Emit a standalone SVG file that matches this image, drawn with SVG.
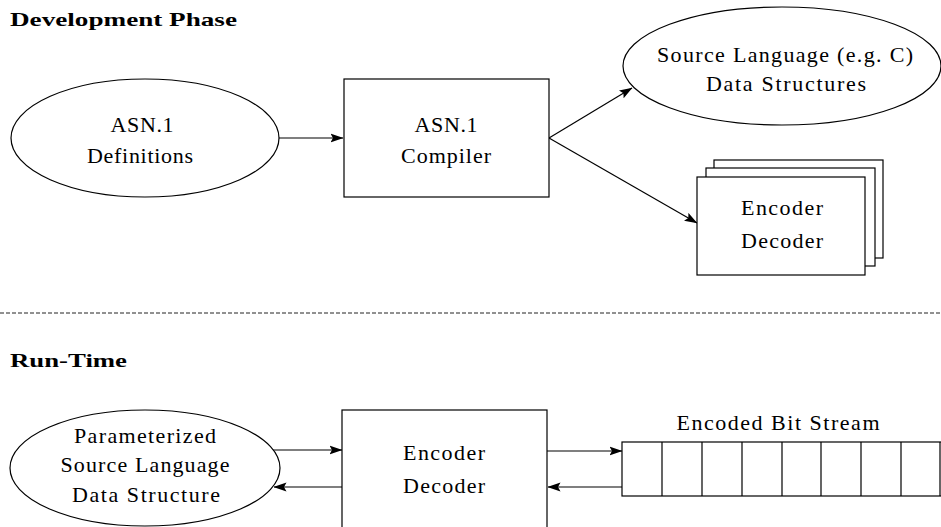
<svg xmlns="http://www.w3.org/2000/svg" width="941" height="527" viewBox="0 0 941 527">
  <style>
    .shape { fill: #fff; stroke: #000; stroke-width: 1.2; }
    .edge { fill: none; stroke: #000; stroke-width: 1.2; }
    .lbl { font-family: "Liberation Serif", "DejaVu Serif", serif; font-size: 22px; fill: #000; text-anchor: middle; }
    .head { font-family: "Liberation Serif", "DejaVu Serif", serif; font-size: 19px; font-weight: bold; fill: #000; }
  </style>
  <defs>
    <marker id="arrow" viewBox="0 0 13 10" markerWidth="13" markerHeight="10" refX="12.5" refY="5" orient="auto" markerUnits="userSpaceOnUse">
      <path d="M0,0.5 L13,5 L0,9.5 L2.5,5 Z" fill="#000"/>
    </marker>
  </defs>

  <rect width="941" height="527" fill="#fff"/>

  <!-- section headings -->
  <text class="head" x="10" y="26" textLength="227" lengthAdjust="spacingAndGlyphs">Development Phase</text>
  <text class="head" x="10" y="367" textLength="117" lengthAdjust="spacingAndGlyphs">Run-Time</text>

  <!-- separator between phases -->
  <line x1="0" y1="313" x2="941" y2="313" stroke="#222" stroke-width="1" stroke-dasharray="4,2"/>

  <!-- connectors -->
  <g id="connectors">
    <line class="edge" x1="279" y1="138" x2="343" y2="138" marker-end="url(#arrow)"/>
    <line class="edge" x1="549" y1="138" x2="632" y2="88" marker-end="url(#arrow)"/>
    <line class="edge" x1="549" y1="138" x2="697" y2="223" marker-end="url(#arrow)"/>
    <line class="edge" x1="272" y1="450" x2="342" y2="450" marker-end="url(#arrow)"/>
    <line class="edge" x1="342" y1="487" x2="274" y2="487" marker-end="url(#arrow)"/>
    <line class="edge" x1="547" y1="451" x2="622" y2="451" marker-end="url(#arrow)"/>
    <line class="edge" x1="622" y1="487" x2="548" y2="487" marker-end="url(#arrow)"/>
  </g>

  <g id="asn1-definitions">
    <ellipse class="shape" cx="145" cy="138" rx="134" ry="59"/>
    <text class="lbl" x="142" y="132" textLength="63">ASN.1</text>
    <text class="lbl" x="140" y="163" textLength="106">Definitions</text>
  </g>

  <g id="asn1-compiler">
    <rect class="shape" x="344" y="79" width="205" height="118"/>
    <text class="lbl" x="446" y="132" textLength="63">ASN.1</text>
    <text class="lbl" x="446" y="163" textLength="90">Compiler</text>
  </g>

  <g id="source-structures">
    <ellipse class="shape" cx="782" cy="66" rx="159" ry="59"/>
    <text class="lbl" x="785" y="62" textLength="256">Source Language (e.g. C)</text>
    <text class="lbl" x="786" y="91" textLength="160">Data Structures</text>
  </g>

  <g id="encoder-decoder-stack">
    <rect class="shape" x="714" y="160" width="169" height="98"/>
    <rect class="shape" x="706" y="168" width="169" height="98"/>
    <rect class="shape" x="697" y="177" width="168" height="98"/>
    <text class="lbl" x="782" y="215" textLength="82">Encoder</text>
    <text class="lbl" x="782" y="248" textLength="82">Decoder</text>
  </g>

  <g id="source-structure-param">
    <ellipse class="shape" cx="145" cy="468" rx="135" ry="58"/>
    <text class="lbl" x="145" y="443" textLength="142">Parameterized</text>
    <text class="lbl" x="145" y="472" textLength="169">Source Language</text>
    <text class="lbl" x="146" y="502" textLength="148">Data Structure</text>
  </g>

  <g id="encoder-decoder">
    <rect class="shape" x="342" y="410" width="205" height="130"/>
    <text class="lbl" x="444" y="460" textLength="82">Encoder</text>
    <text class="lbl" x="444" y="493" textLength="82">Decoder</text>
  </g>

  <g id="bit-stream">
    <text class="lbl" x="778" y="430" textLength="203">Encoded Bit Stream</text>
    <rect class="shape" x="622" y="442" width="330" height="54"/>
    <path class="edge" d="M662,442 V496 M702,442 V496 M742,442 V496 M782,442 V496 M821,442 V496 M861,442 V496 M901,442 V496 M940,442 V496"/>
  </g>
</svg>
